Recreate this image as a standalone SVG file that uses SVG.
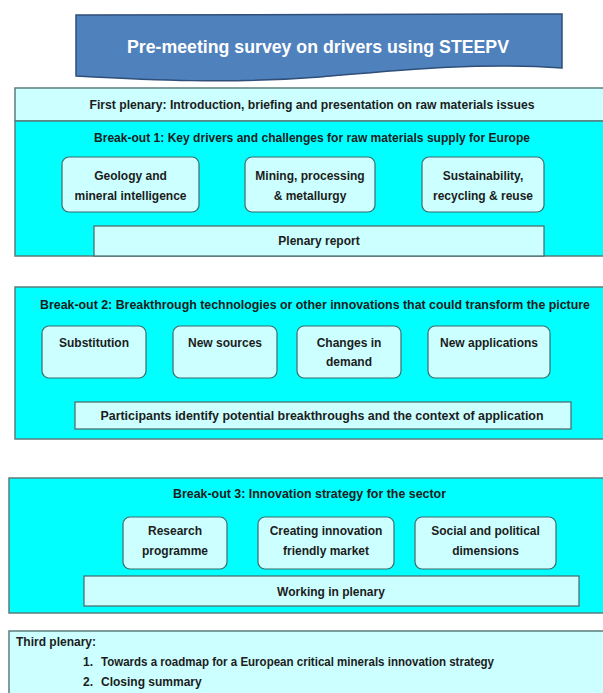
<svg xmlns="http://www.w3.org/2000/svg" width="603" height="693" viewBox="0 0 603 693">
  <style>
    .t { font-family: "Liberation Sans", Arial, sans-serif; font-weight: bold; font-size: 12px; fill: #1c1c1c; }
    .c { text-anchor: middle; }
    .panel { fill: #00ffff; stroke: #5b7d7d; stroke-width: 1.5; }
    .pale { fill: #ccffff; stroke: #5b7d7d; stroke-width: 1.5; }
    .card { fill: #ccffff; stroke: #3f6a6a; stroke-width: 1.2; }
    .bar { fill: #ccffff; stroke: #4a6666; stroke-width: 1.2; }
  </style>

  <rect width="603" height="693" fill="#ffffff"/>

  <!-- banner -->
  <g id="survey">
    <path d="M76,15 L562,14 L562,68 C480,62 400,70 320,77 C230,84 150,80 76,76 Z" fill="#4f81bd" stroke="#2f4f7a" stroke-width="1.5"/>
    <text x="318" y="53" class="t c" style="font-size:19px;fill:#ffffff" textLength="382" lengthAdjust="spacingAndGlyphs">Pre-meeting survey on drivers using STEEPV</text>
  </g>

  <!-- first plenary + break-out 1 -->
  <g id="first-plenary">
    <rect x="15" y="88" width="600" height="33" class="pale"/>
    <text x="312" y="109" class="t c" textLength="445" lengthAdjust="spacingAndGlyphs">First plenary: Introduction, briefing and presentation on raw materials issues</text>
  </g>
  <g id="breakout-1">
    <rect x="15" y="121" width="600" height="135" class="panel"/>
    <text x="312" y="142" class="t c" textLength="436" lengthAdjust="spacingAndGlyphs">Break-out 1: Key drivers and challenges for raw materials supply for Europe</text>
  </g>
  <g id="geology">
    <rect x="62" y="157" width="137" height="55" rx="7" class="card"/>
    <text x="130.5" y="180" class="t c">Geology and</text>
    <text x="130.5" y="200" class="t c">mineral intelligence</text>
  </g>
  <g id="mining">
    <rect x="245" y="157" width="130" height="55" rx="7" class="card"/>
    <text x="310" y="180" class="t c">Mining, processing</text>
    <text x="310" y="200" class="t c">&amp; metallurgy</text>
  </g>
  <g id="sustainability">
    <rect x="422" y="157" width="122" height="55" rx="7" class="card"/>
    <text x="483" y="180" class="t c">Sustainability,</text>
    <text x="483" y="200" class="t c">recycling &amp; reuse</text>
  </g>
  <g id="plenary-report">
    <rect x="94" y="226" width="450" height="30" class="bar"/>
    <text x="319" y="245" class="t c">Plenary report</text>
  </g>

  <!-- break-out 2 -->
  <g id="breakout-2">
    <rect x="15" y="287" width="600" height="152" class="panel"/>
    <text x="40" y="309" class="t" textLength="550" lengthAdjust="spacingAndGlyphs">Break-out 2: Breakthrough technologies or other innovations that could transform the picture</text>
  </g>
  <g id="substitution">
    <rect x="42" y="326" width="104" height="52" rx="7" class="card"/>
    <text x="94" y="347" class="t c">Substitution</text>
  </g>
  <g id="new-sources">
    <rect x="173" y="326" width="104" height="52" rx="7" class="card"/>
    <text x="225" y="347" class="t c">New sources</text>
  </g>
  <g id="changes-in-demand">
    <rect x="297" y="326" width="104" height="52" rx="7" class="card"/>
    <text x="349" y="347" class="t c">Changes in</text>
    <text x="349" y="366" class="t c">demand</text>
  </g>
  <g id="new-applications">
    <rect x="428" y="326" width="122" height="52" rx="7" class="card"/>
    <text x="489" y="347" class="t c">New applications</text>
  </g>
  <g id="participants">
    <rect x="75" y="402" width="496" height="27" class="bar"/>
    <text x="322" y="420" class="t c" textLength="443" lengthAdjust="spacingAndGlyphs">Participants identify potential breakthroughs and the context of application</text>
  </g>

  <!-- break-out 3 -->
  <g id="breakout-3">
    <rect x="9" y="478" width="606" height="135" class="panel"/>
    <text x="309.5" y="498" class="t c" textLength="273" lengthAdjust="spacingAndGlyphs">Break-out 3: Innovation strategy for the sector</text>
  </g>
  <g id="research">
    <rect x="123" y="517" width="104" height="52" rx="7" class="card"/>
    <text x="175" y="535" class="t c">Research</text>
    <text x="175" y="555" class="t c">programme</text>
  </g>
  <g id="innovation-market">
    <rect x="258" y="517" width="136" height="52" rx="7" class="card"/>
    <text x="326" y="535" class="t c">Creating innovation</text>
    <text x="326" y="555" class="t c">friendly market</text>
  </g>
  <g id="social-political">
    <rect x="415" y="517" width="141" height="52" rx="7" class="card"/>
    <text x="485.5" y="535" class="t c">Social and political</text>
    <text x="485.5" y="555" class="t c">dimensions</text>
  </g>
  <g id="working-plenary">
    <rect x="84" y="576" width="495" height="30" class="bar"/>
    <text x="331" y="596" class="t c">Working in plenary</text>
  </g>

  <!-- third plenary -->
  <g id="third-plenary">
    <rect x="9" y="631" width="606" height="70" class="pale"/>
    <text x="16" y="646" class="t">Third plenary:</text>
    <text x="83" y="666" class="t">1.</text>
    <text x="101" y="666" class="t" textLength="393" lengthAdjust="spacingAndGlyphs">Towards a roadmap for a European critical minerals innovation strategy</text>
    <text x="83" y="686" class="t">2.</text>
    <text x="101" y="686" class="t">Closing summary</text>
  </g>

  <!-- connectors: none drawn; stages are stacked panels -->
  <g id="connectors"/>
</svg>
